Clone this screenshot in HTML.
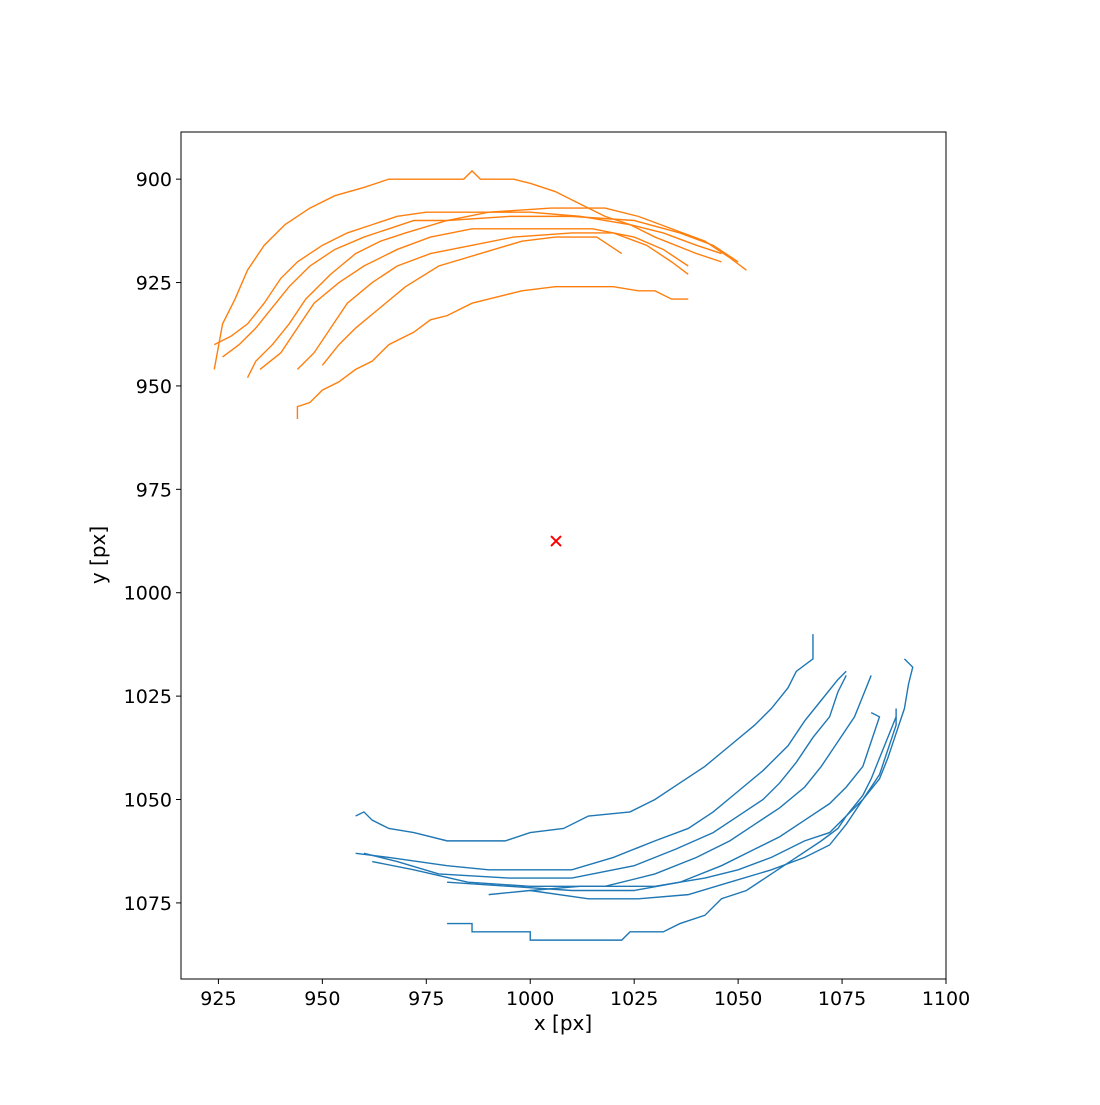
<!DOCTYPE html>
<html><head><meta charset="utf-8"><style>
body{margin:0;background:#fff;}
svg text{font-family:"DejaVu Sans","Liberation Sans",sans-serif;}
</style></head><body>
<svg id="chart" width="1100" height="1100" xmlns="http://www.w3.org/2000/svg">
<rect x="0" y="0" width="1100" height="1100" fill="#fff"/>
<g id="plot"></g>
<rect x="181" y="132" width="765" height="847" fill="none" stroke="#000" stroke-width="1"/>
<g id="xt"></g>
<g id="yt"></g>
<text x="563" y="1030" font-size="20" text-anchor="middle">x [px]</text>
<text transform="translate(105,555) rotate(-90)" font-size="20" text-anchor="middle">y [px]</text>
</svg>
<script>
const xTicks=[925,950,975,1000,1025,1050,1075,1100];
const yTicks=[900,925,950,975,1000,1025,1050,1075];
const orangeTracks=[
[[924,946],[926,935],[929,929],[932,922],[936,916],[941,911],[947,907],[953,904],[960,902],[966,900],[984,900],[986,898],[988,900],[996,900],[1000,901],[1006,903],[1012,906],[1018,909],[1024,911],[1030,914],[1040,918],[1046,920]],
[[924,940],[928,938],[932,935],[936,930],[940,924],[944,920],[950,916],[956,913],[962,911],[968,909],[975,908],[990,908],[1005,907],[1018,907],[1026,909],[1034,912],[1042,915],[1048,919],[1052,922]],
[[926,943],[930,940],[934,936],[938,931],[942,926],[947,921],[953,917],[960,914],[966,912],[972,910],[980,910],[990,908],[1000,908],[1012,909],[1024,911],[1032,913],[1040,916],[1046,918]],
[[932,948],[934,944],[938,940],[942,935],[946,929],[952,923],[958,918],[964,915],[970,913],[980,910],[995,909],[1010,909],[1025,910],[1036,913],[1044,916],[1050,920]],
[[935,946],[940,942],[944,936],[948,930],[954,925],[960,921],[968,917],[976,914],[986,912],[1000,912],[1015,912],[1025,914],[1032,917],[1038,921]],
[[944,946],[948,942],[952,936],[956,930],[962,925],[968,921],[976,918],[986,916],[996,914],[1010,913],[1020,913],[1028,916],[1034,920],[1038,923]],
[[950,945],[954,940],[958,936],[964,931],[970,926],[978,921],[988,918],[998,915],[1006,914],[1016,914],[1022,918]],
[[944,958],[944,955],[947,954],[950,951],[954,949],[958,946],[962,944],[966,940],[972,937],[976,934],[980,933],[986,930],[990,929],[998,927],[1006,926],[1020,926],[1026,927],[1030,927],[1034,929],[1038,929]]
];
const blueTracks=[
[[958,1054],[960,1053],[962,1055],[966,1057],[972,1058],[980,1060],[994,1060],[1000,1058],[1008,1057],[1014,1054],[1024,1053],[1030,1050],[1036,1046],[1042,1042],[1048,1037],[1054,1032],[1058,1028],[1062,1023],[1064,1019],[1068,1016],[1068,1010]],
[[958,1063],[966,1064],[980,1066],[990,1067],[1010,1067],[1020,1064],[1030,1060],[1038,1057],[1044,1053],[1050,1048],[1056,1043],[1062,1037],[1066,1031],[1070,1026],[1074,1021],[1076,1019]],
[[960,1063],[968,1065],[978,1068],[995,1069],[1010,1069],[1025,1066],[1035,1062],[1044,1058],[1050,1054],[1056,1050],[1060,1046],[1064,1041],[1068,1035],[1072,1030],[1074,1024],[1076,1020]],
[[962,1065],[972,1067],[985,1070],[1000,1071],[1018,1071],[1030,1068],[1040,1064],[1048,1060],[1054,1056],[1060,1052],[1066,1047],[1070,1042],[1074,1036],[1078,1030],[1080,1025],[1082,1020]],
[[980,1070],[995,1071],[1010,1072],[1025,1072],[1036,1070],[1046,1066],[1054,1062],[1060,1059],[1066,1055],[1072,1051],[1076,1047],[1080,1042],[1082,1036],[1084,1030],[1082,1029]],
[[990,1073],[1000,1072],[1012,1071],[1030,1071],[1042,1069],[1050,1067],[1058,1064],[1066,1060],[1072,1058],[1076,1054],[1080,1050],[1084,1045],[1086,1040],[1088,1034],[1090,1028],[1091,1022],[1092,1018],[1090,1016]],
[[1000,1072],[1014,1074],[1026,1074],[1038,1073],[1048,1070],[1058,1067],[1066,1064],[1072,1061],[1076,1056],[1080,1050],[1084,1044],[1086,1038],[1088,1032],[1088,1028]],
[[980,1080],[986,1080],[986,1082],[1000,1082],[1000,1084],[1022,1084],[1024,1082],[1032,1082],[1036,1080],[1042,1078],[1046,1074],[1052,1072],[1058,1068],[1064,1064],[1070,1060],[1074,1057],[1076,1054],[1080,1049],[1082,1045],[1084,1040],[1086,1035],[1088,1030]]
];
const centerPoint=[1006.2,987.5];

const X0=181,X1=946,Y0=132,Y1=979;
const xmin=916,xmax=1100,ymin=888.6,ymax=1093.4;
const sx=v=>X0+(v-xmin)/(xmax-xmin)*(X1-X0);
const sy=v=>Y0+(v-ymin)/(ymax-ymin)*(Y1-Y0);
const NS="http://www.w3.org/2000/svg";
const plot=document.getElementById('plot');
function drawTracks(tracks,color,name){
  tracks.forEach((t,i)=>{
    const p=document.createElementNS(NS,'polyline');
    p.setAttribute('points',t.map(d=>sx(d[0])+','+sy(d[1])).join(' '));
    p.setAttribute('fill','none');p.setAttribute('stroke',color);p.setAttribute('stroke-width','1.4');
    
    
    plot.appendChild(p);
  });
}
drawTracks(orangeTracks,'#ff7f0e','orange-track');
drawTracks(blueTracks,'#1f77b4','blue-track');
const cx=sx(centerPoint[0]),cy=sy(centerPoint[1]);
const m=document.createElementNS(NS,'path');
m.setAttribute('d',`M${cx-5},${cy-5}L${cx+5},${cy+5}M${cx-5},${cy+5}L${cx+5},${cy-5}`);
m.setAttribute('stroke','#ff0000');m.setAttribute('stroke-width','2');


plot.appendChild(m);
const xt=document.getElementById('xt');
xTicks.forEach(v=>{
  const x=sx(v);
  const l=document.createElementNS(NS,'line');
  l.setAttribute('x1',x);l.setAttribute('x2',x);l.setAttribute('y1',Y1);l.setAttribute('y2',Y1+5);l.setAttribute('stroke','#000');
  
  
  xt.appendChild(l);
  const t=document.createElementNS(NS,'text');
  t.setAttribute('x',x);t.setAttribute('y',Y1+26);t.setAttribute('font-size','19');t.setAttribute('text-anchor','middle');
  t.textContent=v;
  
  
  xt.appendChild(t);
});
const yt=document.getElementById('yt');
yTicks.forEach(v=>{
  const y=sy(v);
  const l=document.createElementNS(NS,'line');
  l.setAttribute('x1',X0-5);l.setAttribute('x2',X0);l.setAttribute('y1',y);l.setAttribute('y2',y);l.setAttribute('stroke','#000');
  
  
  yt.appendChild(l);
  const t=document.createElementNS(NS,'text');
  t.setAttribute('x',X0-9);t.setAttribute('y',y+7);t.setAttribute('font-size','19');t.setAttribute('text-anchor','end');
  t.textContent=v;
  
  
  yt.appendChild(t);
});
</script>
</body></html>
